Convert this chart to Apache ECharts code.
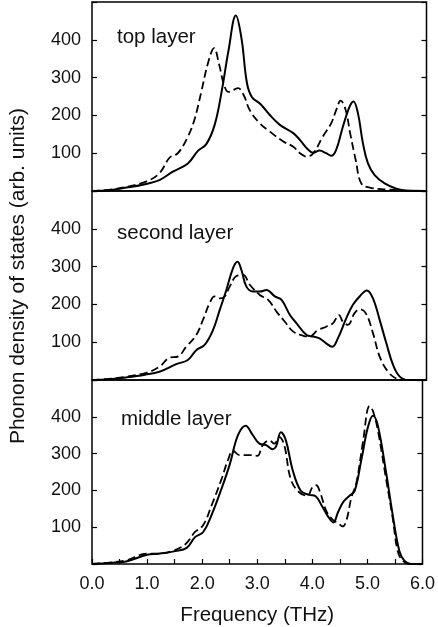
<!DOCTYPE html>
<html>
<head>
<meta charset="utf-8">
<script src="https://cdn.jsdelivr.net/npm/echarts@6/dist/echarts.min.js"></script>
<style>
html,body{margin:0;padding:0;background:#fff;}
#chart{width:438px;height:627px;}
</style>
</head>
<body>
<div id="chart"></div>
<script>
// ---- data (frequency in THz, DOS in arb. units) ----
var xTickLabels = ['0.0','1.0','2.0','3.0','4.0','5.0','6.0'];
var yTickLabels = ['100','200','300','400'];
var panelNames = ['top layer','second layer','middle layer'];

var topSolidX = [0,0.3,0.62,0.95,1.21,1.45,1.72,1.90,2.05,2.20,2.33,2.45,2.58,2.68,2.78,2.87,3.02,3.19,3.37,3.61,3.73,3.88,3.97,4.08,4.20,4.29,4.38,4.50,4.62,4.69,4.77,4.86,4.95,5.07,5.25,5.46,5.64,6.0];
var topSolidY = [0,2,9,18,29,51,73,106,124,175,267,373,464,405,285,248,230,201,175,153,135,109,101,107,100,93,109,170,223,237,206,126,73,42,20,6,1,0];
var topDashX = [0,0.3,0.62,0.97,1.21,1.39,1.54,1.72,1.84,1.96,2.08,2.19,2.28,2.37,2.45,2.53,2.62,2.72,2.83,3.01,3.19,3.43,3.61,3.73,3.85,3.97,4.14,4.29,4.38,4.46,4.55,4.63,4.73,4.83,4.98,5.28,5.58,6.0];
var topDashY = [0,3,11,25,47,88,100,144,190,262,338,378,335,280,262,267,272,254,214,179,157,131,117,100,91,100,144,179,214,239,214,153,82,20,9,4,1,0];

var secondSolidX = [0,0.3,0.62,0.95,1.21,1.51,1.72,1.87,2.02,2.17,2.29,2.41,2.53,2.61,2.68,2.77,2.89,3.01,3.13,3.28,3.40,3.55,3.67,3.85,3.97,4.08,4.20,4.31,4.41,4.56,4.68,4.80,4.93,5.04,5.16,5.28,5.40,5.52,5.67,6.0];
var secondSolidY = [0,2,7,14,22,42,53,79,93,132,185,238,296,313,291,247,234,234,238,221,212,172,150,119,115,110,97,88,110,163,199,221,237,216,159,97,40,9,0,0];
var secondDashX = [0,0.3,0.62,0.97,1.21,1.39,1.54,1.69,1.87,1.99,2.11,2.20,2.29,2.38,2.47,2.59,2.71,2.83,3.01,3.16,3.31,3.46,3.61,3.79,3.90,4.05,4.20,4.32,4.43,4.50,4.59,4.71,4.80,4.91,5.04,5.16,5.31,5.46,5.64,6.0];
var secondDashY = [0,3,9,19,35,59,62,88,119,159,203,221,216,221,247,275,278,252,225,212,181,154,128,117,115,132,141,150,172,154,146,177,187,177,124,62,22,4,0,0];

var middleSolidX = [0,0.32,0.62,1.00,1.21,1.51,1.72,1.87,2.02,2.17,2.35,2.50,2.65,2.79,2.92,3.04,3.16,3.28,3.34,3.43,3.52,3.64,3.79,3.94,4.06,4.17,4.29,4.38,4.47,4.56,4.68,4.77,4.89,5.01,5.10,5.19,5.34,5.46,5.58,5.67,5.79,6.0];
var middleSolidY = [0,3,7,25,28,35,44,73,87,133,204,270,350,376,350,327,323,312,319,358,336,257,199,188,184,159,128,113,142,168,186,199,283,372,403,376,248,133,35,9,0,0];
var middleDashX = [0,0.32,0.62,1.00,1.21,1.45,1.69,1.87,2.02,2.17,2.35,2.47,2.56,2.68,2.86,3.00,3.10,3.22,3.31,3.40,3.49,3.61,3.76,3.91,4.00,4.07,4.14,4.26,4.38,4.47,4.55,4.62,4.71,4.80,4.92,5.04,5.10,5.19,5.34,5.46,5.55,5.64,5.76,6.0];
var middleDashY = [0,4,10,28,28,35,53,87,106,159,230,283,308,296,296,294,323,336,327,345,323,230,195,186,208,214,195,142,119,111,102,119,181,221,332,429,416,363,230,124,35,9,0,0];

// ---- build ----
function pairs(xs, ys){ return xs.map(function(x,i){ return [x, ys[i]]; }); }
var FONT = '"Liberation Sans", Arial, Helvetica, sans-serif';
var grids = [
  {left:92, right:11.5, top:2, height:189},
  {left:92, right:11.5, top:191, height:189},
  {left:92, right:11.5, top:380, height:188}
];
var panelLabelPos = [[117,37],[117,233],[121,419]];

var xAxes = [], yAxes = [], series = [], graphics = [];
grids.forEach(function(g, i){
  g.show = true; g.borderColor = '#000'; g.borderWidth = 1.5; g.backgroundColor = 'transparent';
  var bottom = (i === 2);
  xAxes.push({
    type:'value', gridIndex:i, min:0, max:6, interval:0.5,
    axisLine:{show:false}, splitLine:{show:false},
    axisTick:{show:bottom, inside:true, length:5, lineStyle:{color:'#000', width:1.2}},
    axisLabel:{show:bottom, interval:0, margin:11, fontSize:18, color:'#111', fontFamily:FONT,
      formatter:function(v){ var k = Math.round(v*2); return (k % 2 === 0) ? xTickLabels[k/2] : ''; }},
    name: bottom ? 'Frequency (THz)' : '',
    nameLocation:'middle', nameGap:41,
    nameTextStyle:{fontSize:20.5, color:'#111', fontFamily:FONT}
  });
  yAxes.push({
    type:'value', gridIndex:i, position:'left', min:0, max:500, interval:100,
    axisLine:{show:false}, splitLine:{show:false},
    axisTick:{show:true, inside:true, length:5, lineStyle:{color:'#000', width:1.2}},
    axisLabel:{show:true, margin:11, fontSize:18, color:'#111', fontFamily:FONT,
      formatter:function(v){ var k = Math.round(v/100); return (k>=1 && k<=4) ? yTickLabels[k-1] : ''; }}
  });
  yAxes.push({
    type:'value', gridIndex:i, position:'right', min:0, max:500, interval:100,
    axisLine:{show:false}, splitLine:{show:false},
    axisTick:{show:true, inside:true, length:5, lineStyle:{color:'#000', width:1.2}},
    axisLabel:{show:false}
  });
  graphics.push({
    type:'text', x:panelLabelPos[i][0], y:panelLabelPos[i][1],
    style:{text:panelNames[i], fill:'#111', font:'20.5px ' + FONT, textAlign:'left', textVerticalAlign:'middle', verticalAlign:'middle'}
  });
});

var sets = [
  [topSolidX, topSolidY, topDashX, topDashY],
  [secondSolidX, secondSolidY, secondDashX, secondDashY],
  [middleSolidX, middleSolidY, middleDashX, middleDashY]
];
sets.forEach(function(s, i){
  series.push({
    type:'line', xAxisIndex:i, yAxisIndex:2*i, data:pairs(s[0], s[1]),
    smooth:0.4, showSymbol:false, symbol:'none', silent:true, z:3,
    lineStyle:{color:'#000', width:2, type:'solid'}
  });
  series.push({
    type:'line', xAxisIndex:i, yAxisIndex:2*i, data:pairs(s[2], s[3]),
    smooth:0.4, showSymbol:false, symbol:'none', silent:true, z:2,
    lineStyle:{color:'#000', width:1.8, type:[8,4]}
  });
});

graphics.push({
  type:'text', x:18, y:276, rotation:Math.PI/2,
  style:{text:'Phonon density of states (arb. units)', fill:'#111', font:'21px ' + FONT,
    textAlign:'center', align:'center', textVerticalAlign:'middle', verticalAlign:'middle'}
});

var chart = echarts.init(document.getElementById('chart'), null, {renderer:'canvas'});
chart.setOption({
  animation:false,
  backgroundColor:'#fff',
  grid:grids,
  xAxis:xAxes,
  yAxis:yAxes,
  series:series,
  graphic:graphics
});
</script>
</body>
</html>
